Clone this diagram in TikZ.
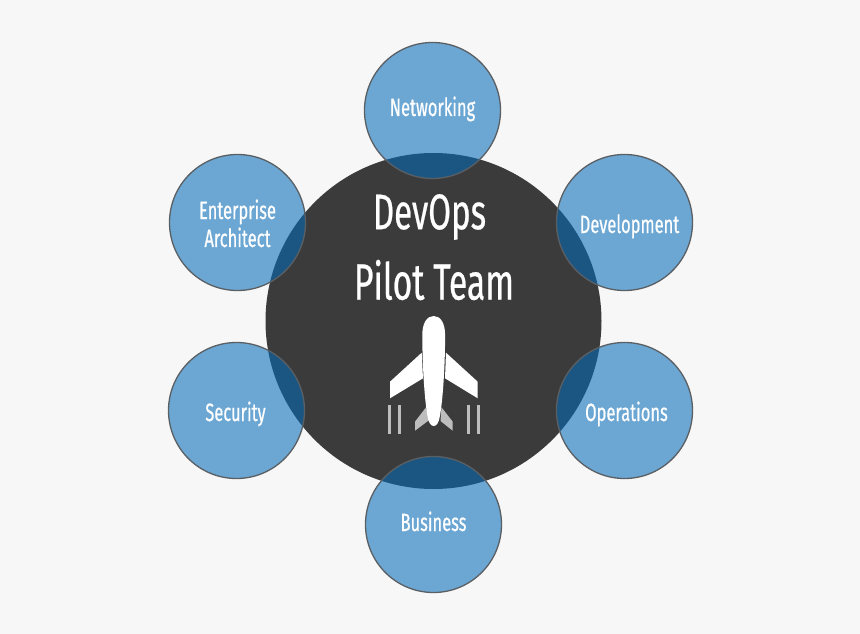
\documentclass[tikz,border=0pt]{standalone}
\usepackage{fontspec}
\newfontfamily\condfont[FakeStretch=0.66,FakeBold=0.5]{Fira Sans}
\newcommand{\placed}[3]{\hspace*{#1}\raisebox{#2}[0pt][0pt]{#3}}
\definecolor{pagebg}{HTML}{F7F7F7}
\definecolor{hubdark}{HTML}{3B3B3B}
\definecolor{petal}{RGB}{3,107,186}
\definecolor{petaledge}{HTML}{5A5F63}
\definecolor{tailgrey}{HTML}{BDBDBD}
\tikzset{
  hub/.style={circle,fill=hubdark,minimum size=336pt,inner sep=0pt},
  petalnode/.style={circle,draw=petaledge,line width=1.3pt,fill=petal,fill opacity=0.57,text opacity=1,
    text=white,minimum size=136pt,inner sep=0pt,font=\condfont\fontsize{25}{28}\selectfont,align=center},
  title/.style={text=white,inner sep=0pt,font=\condfont\fontsize{50}{50}\selectfont},
  planepart/.style={fill=white,draw=none},
  tailpart/.style={fill=tailgrey,draw=none},
  trail/.style={draw=tailgrey,line width=3pt}
}
\begin{document}
\begin{tikzpicture}[x=1pt,y=-1pt]
\useasboundingbox (0,0) rectangle (860,634);
\fill[pagebg] (0,0) rectangle (860,634);
\node[hub] (center) at (433.5,321) {};
\node[title] (devops) at (429.5,217) {DevOps};
\node[title,font=\condfont\fontsize{51}{51}\selectfont] (pilot) at (434,280) {Pilot Team};
% plane
\fill[planepart] (421.7,352.7) -- (390,381.7) -- (390,398.3) -- (423,378.3) -- cycle;
\fill[planepart] (446,352.7) -- (477.7,381.7) -- (477.7,398.3) -- (445,378.3) -- cycle;
\fill[tailpart] (426,407.3) -- (415,421.7) -- (415,430.7) -- (429.3,420) -- cycle;
\fill[tailpart] (441.5,407.3) -- (452.7,421.7) -- (452.7,430.7) -- (440.5,421) -- cycle;
\fill[planepart] (433.7,316) .. controls (427,316) and (422.3,323) .. (422.3,335)
  .. controls (422.3,365) and (424.5,400) .. (427.5,416)
  .. controls (428.5,423) and (431,426) .. (433.7,426)
  .. controls (436.4,426) and (438.9,423) .. (439.9,416)
  .. controls (442.9,400) and (445.1,365) .. (445.1,335)
  .. controls (445.1,323) and (440.4,316) .. (433.7,316) -- cycle;
\draw[trail] (389,405) -- (389,434);
\draw[trail] (399.3,405) -- (399.3,434);
\draw[trail] (468,405) -- (468,434);
\draw[trail] (478.7,405) -- (478.7,434);
% petals
\node[petalnode] (net) at (432.5,110.5) {\placed{0pt}{-5.5pt}{Networking}};
\node[petalnode] (dev) at (624.5,222.5) {\placed{10pt}{-10.5pt}{Development}};
\node[petalnode] (ent) at (237.5,222.5) {\placed{0pt}{-10.5pt}{Enterprise}\\\placed{0pt}{-10.5pt}{Architect}};
\node[petalnode] (sec) at (236.5,410.5) {\placed{-2pt}{-10.5pt}{Security}};
\node[petalnode] (ops) at (624.5,410.5) {\placed{4pt}{-10.5pt}{Operations}};
\node[petalnode] (bus) at (433.5,524.5) {\placed{0pt}{-6.5pt}{Business}};
\end{tikzpicture}
\end{document}
